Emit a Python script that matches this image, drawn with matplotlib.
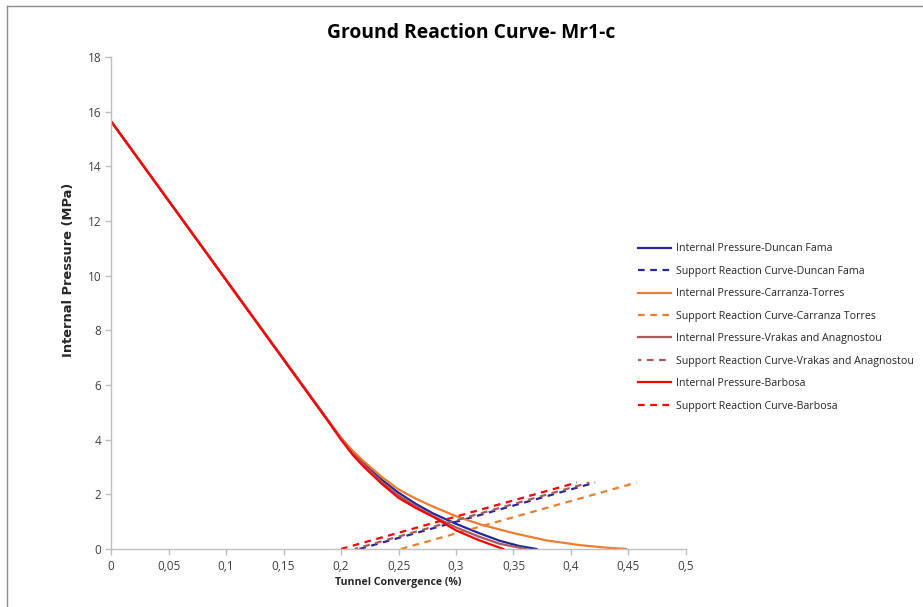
import matplotlib
matplotlib.use("Agg")
import matplotlib.pyplot as plt
from matplotlib.lines import Line2D

# Ground reaction curves (convergence %, internal pressure MPa)
x_duncan = [0, 0.19, 0.2, 0.21, 0.22, 0.235, 0.25, 0.265, 0.28, 0.3, 0.32, 0.338, 0.355, 0.37]
p_duncan = [15.65, 4.63, 4.05, 3.55, 3.12, 2.55, 2.06, 1.65, 1.3, 0.92, 0.58, 0.3, 0.11, 0]

x_carranza = [0, 0.19, 0.2, 0.21, 0.22, 0.235, 0.25, 0.265, 0.28, 0.3, 0.321, 0.35, 0.379, 0.408, 0.43, 0.448]
p_carranza = [15.65, 4.63, 4.07, 3.6, 3.2, 2.65, 2.18, 1.84, 1.55, 1.2, 0.9, 0.58, 0.31, 0.14, 0.05, 0]

x_vrakas = [0, 0.19, 0.2, 0.21, 0.22, 0.235, 0.25, 0.265, 0.28, 0.3, 0.32, 0.338, 0.361]
p_vrakas = [15.65, 4.63, 4.03, 3.5, 3.07, 2.47, 1.96, 1.55, 1.2, 0.79, 0.45, 0.19, 0]

x_barbosa = [0, 0.19, 0.2, 0.21, 0.22, 0.235, 0.25, 0.265, 0.28, 0.3, 0.32, 0.341]
p_barbosa = [15.65, 4.6, 4.0, 3.45, 3.0, 2.4, 1.87, 1.5, 1.18, 0.68, 0.32, 0]

# support reaction curves
src_duncan_x = [0.216, 0.421]
src_carranza_x = [0.252, 0.457]
src_vrakas_x = [0.212, 0.416]
src_barbosa_x = [0.2, 0.405]
src_p = [0, 2.43]

c_duncan = "#27279A"
c_carranza = "#ED7D31"
c_vrakas = "#A65B5E"
c_barbosa = "#FF0000"

fig = plt.figure(figsize=(9.23, 6.07), dpi=100)
ax = fig.add_axes([0.1203, 0.0956, 0.6229, 0.8105])

lw = 1.6
dash = (0, (3, 2.5))
ax.plot(x_duncan, p_duncan, color=c_duncan, lw=lw, label="Internal Pressure-Duncan Fama")
ax.plot(src_duncan_x, src_p, color=c_duncan, lw=lw, ls=dash, label="Support Reaction Curve-Duncan Fama")
ax.plot(x_carranza, p_carranza, color=c_carranza, lw=lw, label="Internal Pressure-Carranza-Torres")
ax.plot(src_carranza_x, src_p, color=c_carranza, lw=lw, ls=dash, label="Support Reaction Curve-Carranza Torres")
ax.plot(x_vrakas, p_vrakas, color=c_vrakas, lw=lw, label="Internal Pressure-Vrakas and Anagnostou")
ax.plot(src_vrakas_x, src_p, color=c_vrakas, lw=lw, ls=(1.5, (3, 2.5)), label="Support Reaction Curve-Vrakas and Anagnostou")
ax.plot(x_barbosa, p_barbosa, color=c_barbosa, lw=lw, label="Internal Pressure-Barbosa")
ax.plot(src_barbosa_x, src_p, color=c_barbosa, lw=lw, ls=dash, label="Support Reaction Curve-Barbosa")

ax.set_xlim(0, 0.5)
ax.set_ylim(0, 18)
xt = [0, 0.05, 0.1, 0.15, 0.2, 0.25, 0.3, 0.35, 0.4, 0.45, 0.5]
ax.set_xticks(xt)
ax.set_xticklabels(["0", "0,05", "0,1", "0,15", "0,2", "0,25", "0,3", "0,35", "0,4", "0,45", "0,5"])
ax.set_yticks(range(0, 19, 2))

for s in ["top", "right"]:
    ax.spines[s].set_visible(False)
for s in ["left", "bottom"]:
    ax.spines[s].set_color("#BFBFBF")
    ax.spines[s].set_linewidth(1.0)
ax.tick_params(colors="#BFBFBF", labelcolor="#404040", labelsize=8.5, length=4, width=1.0, pad=3)
for t in ax.get_xticklabels() + ax.get_yticklabels():
    t.set_family("Open Sans")
ax.tick_params(axis="x", pad=4)

ax.set_xlabel("Tunnel Convergence (%)", fontsize=7.6, fontweight="bold", family="Open Sans", color="#262626", labelpad=3)
ax.set_ylabel("Internal Pressure (MPa)", fontsize=9.4, fontweight="bold", family="DejaVu Sans", color="#262626")
ax.yaxis.set_label_coords(-0.0626, 0.567)

fig.text(0.51, 0.946, "Ground Reaction Curve- Mr1-c", ha="center", va="center",
         fontsize=13.9, fontweight="bold", family="Open Sans", color="#000000")

leg = ax.legend(loc="upper left", bbox_to_anchor=(0.6863, 0.606), bbox_transform=fig.transFigure,
                frameon=False, fontsize=7.7, handlelength=3.1, handletextpad=0.46,
                labelspacing=1.07, borderaxespad=0)
for t in leg.get_texts():
    t.set_family("Open Sans")
    t.set_color("#262626")

# chart-area border (left and top only visible in the crop)
fig.add_artist(Line2D([7.5 / 923, 7.5 / 923], [0, 1 - 5.5 / 607], transform=fig.transFigure, color="#8C8C8C", lw=1.0))
fig.add_artist(Line2D([7.5 / 923, 1], [1 - 5.5 / 607, 1 - 5.5 / 607], transform=fig.transFigure, color="#8C8C8C", lw=1.0))

fig.savefig("out.png", dpi=100)
